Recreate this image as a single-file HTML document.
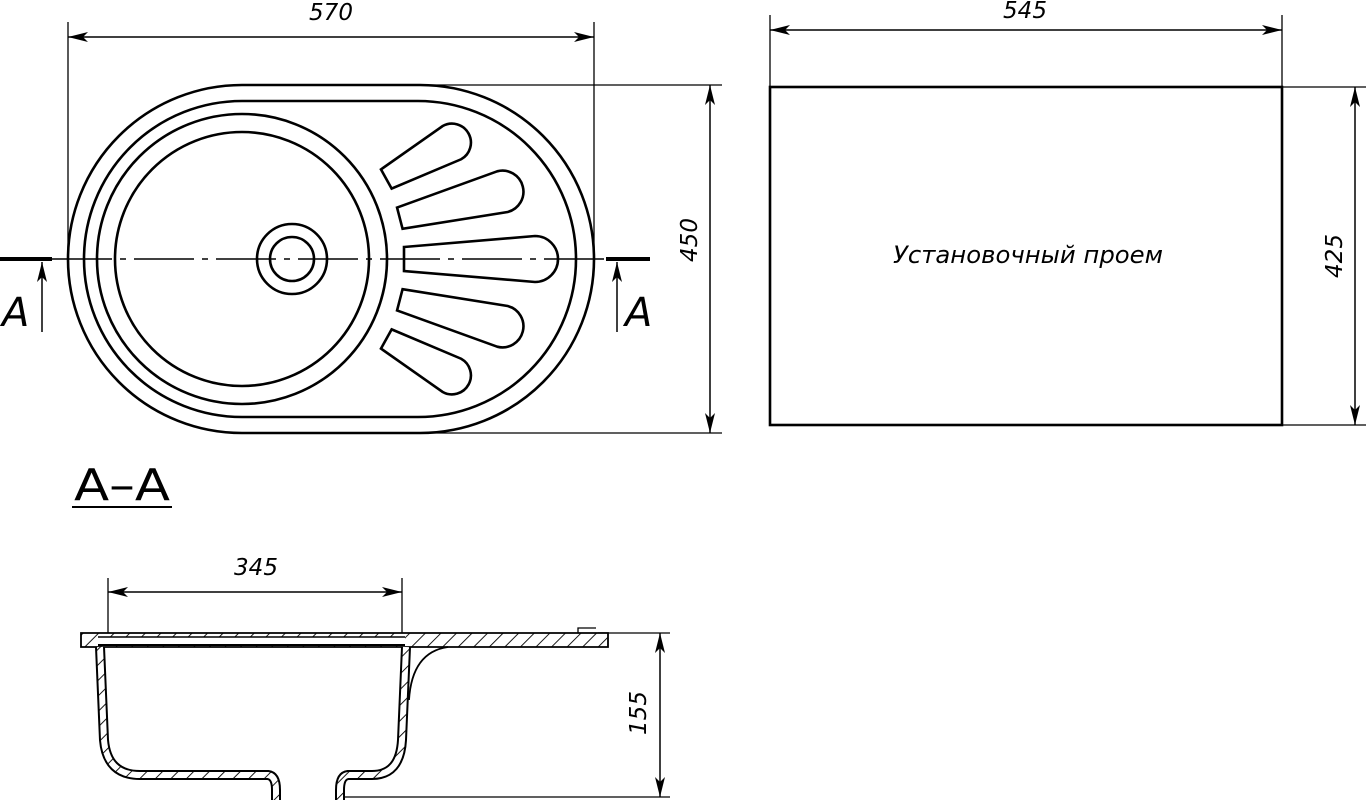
<!DOCTYPE html>
<html><head><meta charset="utf-8"><style>
html,body{margin:0;padding:0;background:#fff;width:1366px;height:800px;overflow:hidden}
svg{display:block}
text{font-family:"DejaVu Sans","Liberation Sans",sans-serif;font-style:italic;fill:#000}
</style></head><body>
<svg width="1366" height="800" viewBox="0 0 1366 800" xmlns="http://www.w3.org/2000/svg">
<defs>
<marker id="ar" viewBox="0 0 20 10" refX="20" refY="5" markerWidth="20" markerHeight="10" markerUnits="userSpaceOnUse" orient="auto-start-reverse"><path d="M0,0 L20,5 L0,10 L5,5 Z" fill="#000"/></marker>
<pattern id="h" width="11" height="11" patternUnits="userSpaceOnUse" patternTransform="rotate(45)"><rect width="11" height="11" fill="#fff"/><line x1="0" y1="0" x2="0" y2="11" stroke="#000" stroke-width="1.8"/></pattern>
</defs>
<g fill="none" stroke="#000">
<path d="M242,85 L420,85 A174,174 0 0 1 420,433 L242,433 A174,174 0 0 1 242,85 Z" stroke-width="2.6"/>
<path d="M242,101 L418,101 A158,158 0 0 1 418,417 L242,417 A158,158 0 0 1 242,101 Z" stroke-width="2.6"/>
<circle cx="242" cy="259" r="145" stroke-width="2.6"/>
<circle cx="242" cy="259" r="127" stroke-width="2.6"/>
<circle cx="292" cy="259" r="35" stroke-width="2.6"/>
<circle cx="292" cy="259" r="22" stroke-width="2.6"/>
<g stroke-width="2.6" transform="translate(242,259)">
<path d="M162,-12 L293,-23 A23,23 0 0 1 293,23 L162,12 Z"/>
<path transform="rotate(-14.5)" d="M163,-11 L269,-21 A21,21 0 0 1 269,21 L163,11 Z"/>
<path transform="rotate(14.5)" d="M163,-11 L269,-21 A21,21 0 0 1 269,21 L163,11 Z"/>
<path transform="rotate(-29)" d="M165,-11 L240,-19 A19,19 0 0 1 240,19 L165,11 Z"/>
<path transform="rotate(29)" d="M165,-11 L240,-19 A19,19 0 0 1 240,19 L165,11 Z"/>
</g>
<line x1="52" y1="259" x2="606" y2="259" stroke-width="1.4" stroke-dasharray="60,8,6,8"/>
<line x1="0" y1="259" x2="52" y2="259" stroke-width="4"/>
<line x1="606" y1="259" x2="650" y2="259" stroke-width="4"/>
<line x1="42" y1="332" x2="42" y2="262" stroke-width="1.5" marker-end="url(#ar)"/>
<line x1="617" y1="332" x2="617" y2="262" stroke-width="1.5" marker-end="url(#ar)"/>
<line x1="68" y1="22" x2="68" y2="259" stroke-width="1.3"/>
<line x1="594" y1="22" x2="594" y2="259" stroke-width="1.3"/>
<line x1="68" y1="37" x2="594" y2="37" stroke-width="1.5" marker-start="url(#ar)" marker-end="url(#ar)"/>
<line x1="420" y1="85" x2="722" y2="85" stroke-width="1.3"/>
<line x1="420" y1="433" x2="722" y2="433" stroke-width="1.3"/>
<line x1="710" y1="85" x2="710" y2="433" stroke-width="1.5" marker-start="url(#ar)" marker-end="url(#ar)"/>
<rect x="770" y="87" width="512" height="338" stroke-width="2.6"/>
<line x1="770" y1="15" x2="770" y2="87" stroke-width="1.3"/>
<line x1="1282" y1="15" x2="1282" y2="87" stroke-width="1.3"/>
<line x1="770" y1="30" x2="1282" y2="30" stroke-width="1.5" marker-start="url(#ar)" marker-end="url(#ar)"/>
<line x1="1282" y1="87" x2="1366" y2="87" stroke-width="1.3"/>
<line x1="1282" y1="425" x2="1366" y2="425" stroke-width="1.3"/>
<line x1="1355" y1="87" x2="1355" y2="425" stroke-width="1.5" marker-start="url(#ar)" marker-end="url(#ar)"/>
<line x1="72" y1="507" x2="172" y2="507" stroke-width="2"/>
<line x1="108" y1="578" x2="108" y2="645" stroke-width="1.3"/>
<line x1="402" y1="578" x2="402" y2="645" stroke-width="1.3"/>
<line x1="108" y1="592" x2="402" y2="592" stroke-width="1.5" marker-start="url(#ar)" marker-end="url(#ar)"/>
<line x1="598" y1="633" x2="670" y2="633" stroke-width="1.3"/>
<line x1="342" y1="797" x2="670" y2="797" stroke-width="1.3"/>
<line x1="660" y1="633" x2="660" y2="797" stroke-width="1.5" marker-start="url(#ar)" marker-end="url(#ar)"/>
<path d="M81,633 L608,633 L608,647 L81,647 Z" fill="url(#h)" stroke-width="1.8"/>
<rect x="98" y="637" width="307" height="8" fill="#fff" stroke="none"/>
<line x1="98" y1="637" x2="405" y2="637" stroke-width="1.5"/>
<line x1="98" y1="645" x2="405" y2="645" stroke-width="2"/>
<path d="M578,633 L578,628 L596,628" stroke-width="1.3"/>
<path d="M100,647 L104,740 Q107,775 140,775 L268,775 Q276,776 276,790 L276,800" stroke="#000" stroke-width="10"/>
<path d="M100,647 L104,740 Q107,775 140,775 L268,775 Q276,776 276,790 L276,800" stroke="url(#h)" stroke-width="6"/>
<path d="M340,800 L340,790 Q340,776 348,775 L372,775 Q400,775 402,740 L406,647" stroke="#000" stroke-width="10"/>
<path d="M340,800 L340,790 Q340,776 348,775 L372,775 Q400,775 402,740 L406,647" stroke="url(#h)" stroke-width="6"/>
<path d="M448,647 Q412,652 409,700" stroke-width="1.8"/>
</g>
<text x="331" y="20" font-size="23" text-anchor="middle">570</text>
<text x="1025" y="18" font-size="23" text-anchor="middle">545</text>
<text x="2" y="326" font-size="40">A</text>
<text x="625" y="326" font-size="40">A</text>
<text transform="translate(697,240) rotate(-90)" font-size="23" text-anchor="middle">450</text>
<text transform="translate(1342,256) rotate(-90)" font-size="23" text-anchor="middle">425</text>
<text transform="translate(646,713) rotate(-90)" font-size="23" text-anchor="middle">155</text>
<text x="256" y="575" font-size="23" text-anchor="middle">345</text>
<text x="1028" y="263" font-size="24" text-anchor="middle" textLength="270" lengthAdjust="spacingAndGlyphs">Установочный проем</text>
<text x="122" y="500" font-size="44" text-anchor="middle" style="font-style:normal" textLength="96" lengthAdjust="spacingAndGlyphs">A–A</text>
</svg>
</body></html>
